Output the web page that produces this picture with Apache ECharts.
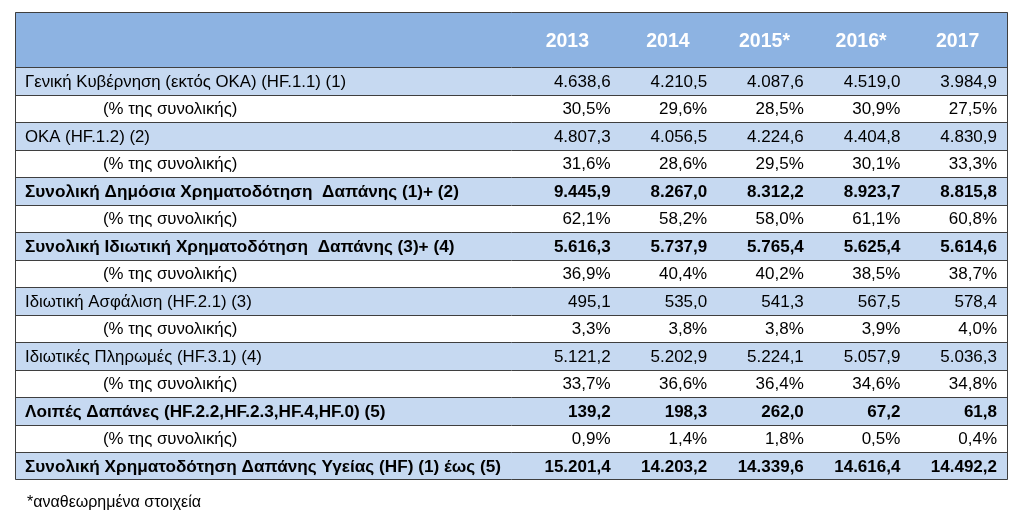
<!DOCTYPE html>
<html><head><meta charset="utf-8">
<script src="https://cdn.jsdelivr.net/npm/echarts@6/dist/echarts.min.js"></script>
<style>html,body{margin:0;padding:0;background:#fff}#c{width:1024px;height:517px}</style>
</head><body><div id="c"></div>
<script>
// ---- data ----
const years = ['2013', '2014', '2015*', '2016*', '2017'];
const rowLabels = [
  'Γενική Κυβέρνηση (εκτός ΟΚΑ) (HF.1.1) (1)',
  '(% της συνολικής)',
  'ΟΚΑ (HF.1.2) (2)',
  '(% της συνολικής)',
  'Συνολική Δημόσια Χρηματοδότηση  Δαπάνης (1)+ (2)',
  '(% της συνολικής)',
  'Συνολική Ιδιωτική Χρηματοδότηση  Δαπάνης (3)+ (4)',
  '(% της συνολικής)',
  'Ιδιωτική Ασφάλιση (HF.2.1) (3)',
  '(% της συνολικής)',
  'Ιδιωτικές Πληρωμές (HF.3.1) (4)',
  '(% της συνολικής)',
  'Λοιπές Δαπάνες (HF.2.2,HF.2.3,HF.4,HF.0) (5)',
  '(% της συνολικής)',
  'Συνολική Χρηματοδότηση Δαπάνης Υγείας (HF) (1) έως (5)'
];
// kind: 'item' amount row, 'total' bold amount row, 'share' percentage row
const rowKinds = ['item','share','item','share','total','share','total','share','item','share','item','share','total','share','total'];

const generalGov      = [4638.6, 4210.5, 4087.6, 4519.0, 3984.9];
const generalGovPct   = [30.5, 29.6, 28.5, 30.9, 27.5];
const oka             = [4807.3, 4056.5, 4224.6, 4404.8, 4830.9];
const okaPct          = [31.6, 28.6, 29.5, 30.1, 33.3];
const publicTotal     = [9445.9, 8267.0, 8312.2, 8923.7, 8815.8];
const publicPct       = [62.1, 58.2, 58.0, 61.1, 60.8];
const privateTotal    = [5616.3, 5737.9, 5765.4, 5625.4, 5614.6];
const privatePct      = [36.9, 40.4, 40.2, 38.5, 38.7];
const privInsurance   = [495.1, 535.0, 541.3, 567.5, 578.4];
const privInsurancePct= [3.3, 3.8, 3.8, 3.9, 4.0];
const privPayments    = [5121.2, 5202.9, 5224.1, 5057.9, 5036.3];
const privPaymentsPct = [33.7, 36.6, 36.4, 34.6, 34.8];
const otherSpending   = [139.2, 198.3, 262.0, 67.2, 61.8];
const otherPct        = [0.9, 1.4, 1.8, 0.5, 0.4];
const totalSpending   = [15201.4, 14203.2, 14339.6, 14616.4, 14492.2];
const footnote = '*αναθεωρημένα στοιχεία';

const rowValues = [generalGov, generalGovPct, oka, okaPct, publicTotal, publicPct,
  privateTotal, privatePct, privInsurance, privInsurancePct, privPayments, privPaymentsPct,
  otherSpending, otherPct, totalSpending];

// ---- formatting ----
function fmtAmount(v) {
  const s = v.toFixed(1).split('.');
  return s[0].replace(/\B(?=(\d{3})+(?!\d))/g, '.') + ',' + s[1];
}
function fmtPct(v) { return v.toFixed(1).replace('.', ',') + '%'; }

// ---- layout constants ----
const LABEL_SPAN = 5.28;   // width of label column in year-column units
const HEADER_ROWS = 2;
const FONT = '"Liberation Sans", Arial, sans-serif';
const LIGHT = '#c6d9f1', HEAD = '#8db3e2', LINE = '#3f3f3f';

const chart = echarts.init(document.getElementById('c'), null, {renderer: 'canvas'});

function px(v) { return Math.round(v); }

function renderHeader(params, api) {
  const tl = api.coord([-LABEL_SPAN, 0]);
  const br = api.coord([5, HEADER_ROWS]);
  const children = [{
    type: 'rect',
    shape: {x: px(tl[0]), y: px(tl[1]), width: px(br[0]) - px(tl[0]), height: px(br[1]) - px(tl[1])},
    style: {fill: HEAD}
  }];
  years.forEach(function (y, i) {
    const p = api.coord([i + 0.5, HEADER_ROWS / 2]);
    children.push({
      type: 'text', x: p[0] - (i === 0 ? 6 : 2), y: p[1] + 2,
      style: {text: y, fill: '#ffffff', font: 'bold 19.5px ' + FONT, textAlign: 'center', textVerticalAlign: 'middle'}
    });
  });
  return {type: 'group', children: children};
}

function renderRow(params, api) {
  const r = api.value(0);
  const y0 = HEADER_ROWS + r;
  const tl = api.coord([-LABEL_SPAN, y0]);
  const br = api.coord([5, y0 + 1]);
  const top = px(tl[1]), bot = px(br[1]);
  const kind = rowKinds[r];
  const bold = kind === 'total';
  const children = [{
    type: 'rect',
    shape: {x: px(tl[0]), y: top, width: px(br[0]) - px(tl[0]), height: bot - top},
    style: {fill: r % 2 === 0 ? LIGHT : '#ffffff'}
  }, {
    type: 'line',
    shape: {x1: px(tl[0]), y1: top + 0.5, x2: px(br[0]), y2: top + 0.5},
    style: {stroke: LINE, lineWidth: 1}
  }];
  const cy = (top + bot) / 2 + 1;
  children.push({
    type: 'text', x: px(tl[0]) + (kind === 'share' ? 88 : 10), y: cy,
    style: {text: rowLabels[r], fill: '#000', font: (bold ? 'bold 17.2px ' : '16.8px ') + FONT,
      textAlign: 'left', textVerticalAlign: 'middle'}
  });
  rowValues[r].forEach(function (v, i) {
    const p = api.coord([i + 1, y0 + 0.5]);
    children.push({
      type: 'text', x: p[0] - 11, y: cy,
      style: {text: kind === 'share' ? fmtPct(v) : fmtAmount(v), fill: '#000',
        font: (bold ? 'bold ' : '') + '17px ' + FONT, textAlign: 'right', textVerticalAlign: 'middle'}
    });
  });
  return {type: 'group', children: children};
}

function renderBorder(params, api) {
  const tl = api.coord([-LABEL_SPAN, 0]);
  const br = api.coord([5, HEADER_ROWS + rowLabels.length]);
  return {
    type: 'rect',
    shape: {x: px(tl[0]) + 0.5, y: px(tl[1]) + 0.5, width: px(br[0]) - px(tl[0]) - 1, height: px(br[1]) - px(tl[1]) - 1},
    style: {fill: null, stroke: LINE, lineWidth: 1}
  };
}

const option = {
  animation: false,
  title: {
    text: footnote, left: 27, top: 495, padding: 0,
    textStyle: {fontFamily: FONT, fontSize: 16, fontWeight: 'normal', color: '#000'}
  },
  grid: {left: 15, right: 16, top: 12, bottom: 37},
  xAxis: {type: 'value', min: -LABEL_SPAN, max: 5, show: false},
  yAxis: {type: 'value', min: 0, max: HEADER_ROWS + rowLabels.length, inverse: true, show: false},
  series: [
    {type: 'custom', renderItem: renderHeader, data: [[0, 0]], silent: true, z: 1},
    {type: 'custom', renderItem: renderRow, data: rowLabels.map(function (_, i) { return [i, i]; }), silent: true, z: 2,
      encode: {x: 0, y: 1}},
    {type: 'custom', renderItem: renderBorder, data: [[0, 0]], silent: true, z: 3}
  ]
};
chart.setOption(option);
</script>
</body></html>
